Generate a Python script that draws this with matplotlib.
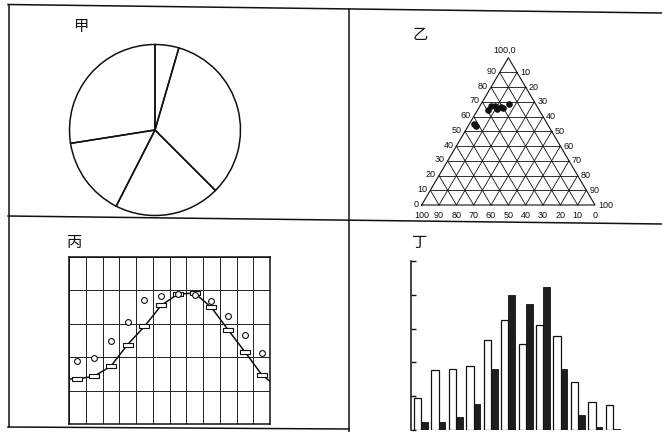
import numpy as np
import matplotlib

matplotlib.use("Agg")
import matplotlib.pyplot as plt
from matplotlib.path import Path

W, H = 662, 432

# 甲: pie shares, clockwise from the top
pie_shares = [4.5, 33, 20, 15, 27.5]

# 乙: ternary points, left scale (A) and right scale (B) in percent
tern_a = [64.5, 67.2, 67.5, 65.2, 66.2, 65.9, 68.6, 55.0, 53.6]
tern_b = [5.9, 6.3, 8.5, 10.8, 12.6, 13.9, 16.0, 2.6, 4.5]
tern_ticks = list(range(0, 101, 10))

# 丙: twelve columns, circles and boxes
months = np.arange(12) + 0.5
circle_vals = [1.90, 1.98, 2.50, 3.05, 3.72, 3.84, 3.89, 3.87, 3.67, 3.22, 2.65, 2.13]
rect_vals = [1.35, 1.43, 1.73, 2.38, 2.92, 3.55, 3.89, 3.92, 3.49, 2.82, 2.16, 1.48]
curve_x = [0, *months, 12]
curve_y = [1.35, *rect_vals, 1.28]

# 丁: paired bars
groups = np.arange(12)
white_vals = [0.94, 1.78, 1.81, 1.88, 2.65, 3.25, 2.55, 3.12, 2.78, 1.42, 0.82, 0.74]
black_vals = [0.25, 0.25, 0.38, 0.76, 1.80, 3.98, 3.74, 4.23, 1.81, 0.45, 0.08, 0.03]

INK = "#111111"
CJK = ["Noto Sans CJK SC", "DejaVu Sans"]
NUM = ["Liberation Sans Narrow", "Liberation Sans", "DejaVu Sans"]

fig = plt.figure(figsize=(W / 100, H / 100), dpi=100)


def px_axes(x0, y0, x1, y1):
    """Add axes from a pixel box (top-left origin)."""
    return fig.add_axes([x0 / W, 1 - y1 / H, (x1 - x0) / W, (y1 - y0) / H])


# frame and panel titles
frame = px_axes(0, 0, W, H)
frame.set_xlim(0, W)
frame.set_ylim(H, 0)
frame.axis("off")
frame.set_zorder(10)
frame.patch.set_visible(False)
lw_frame = 1.1
frame.plot([8, 662], [4.5, 13], color=INK, lw=lw_frame)
frame.plot([8, 662], [216, 224], color=INK, lw=lw_frame)
frame.plot([8, 349], [427, 429], color=INK, lw=lw_frame)
frame.plot([9, 9], [4.5, 427], color=INK, lw=lw_frame)
frame.plot([349, 349], [9, 432], color=INK, lw=lw_frame)
for label, (tx, ty) in zip(["甲", "乙", "丙", "丁"],
                           [(81, 26), (420, 34), (75, 242), (419, 243)]):
    frame.text(tx, ty, label, family=CJK, fontsize=11, color=INK,
               ha="center", va="center")

# 甲 pie
ax = px_axes(60, 35, 250, 225)
ax.pie(pie_shares, startangle=90, counterclock=False, radius=1,
       wedgeprops=dict(fill=False, edgecolor=INK, linewidth=1.1))
lim = 95 / 85.5
ax.set_xlim(-lim, lim)
ax.set_ylim(-lim, lim)
ax.set_aspect("equal")
ax.axis("off")

# 乙 ternary
TH = 0.85


def tern_xy(a, b):
    a = np.asarray(a, dtype=float) / 100
    b = np.asarray(b, dtype=float) / 100
    return b + a / 2, a * TH


ax = px_axes(400, 45, 630, 222)
ax.set_xlim(-0.1252, 1.2019)
ax.set_ylim(-0.0981, 0.9233)
ax.axis("off")
ax.patch.set_visible(False)
px = 1 / 173.3
ax.plot([0, 1, 0.5, 0], [0, 0, TH, 0], color=INK, lw=0.8)
for v in tern_ticks[1:-1]:
    # constant A (horizontal)
    x0, y0 = tern_xy(v, 0)
    x1, y1 = tern_xy(v, 100 - v)
    ax.plot([x0, x1], [y0, y1], color=INK, lw=0.6)
    # constant B (parallel to left side)
    x0, y0 = tern_xy(0, v)
    x1, y1 = tern_xy(100 - v, v)
    ax.plot([x0, x1], [y0, y1], color=INK, lw=0.6)
    # constant C (parallel to right side)
    x0, y0 = tern_xy(0, 100 - v)
    x1, y1 = tern_xy(100 - v, 0)
    ax.plot([x0, x1], [y0, y1], color=INK, lw=0.6)
tk = dict(family=NUM, fontsize=6.5, color=INK)
for v in tern_ticks[:-1]:
    x, y = tern_xy(v, 0)
    ax.text(x - 3 * px, y + 1 * px, str(v), ha="right", va="center", **tk)
for v in tern_ticks[1:]:
    x, y = tern_xy(100 - v, v)
    ax.text(x + 3 * px, y, str(v), ha="left", va="center", **tk)
for v in tern_ticks:
    x, _ = tern_xy(0, 100 - v)
    ax.text(x, -6 * px, str(v), ha="center", va="top", **tk)
xa, ya = tern_xy(100, 0)
ax.text(xa - 4 * px, ya + 3 * px, "100,0", ha="center", va="bottom", **tk)
pxs, pys = tern_xy(tern_a, tern_b)
ax.scatter(pxs, pys, s=14, color=INK, zorder=3)

# 丙 columns with circles and boxes
ax = px_axes(69, 257, 270, 424)
ax.set_xlim(0, 12)
ax.set_ylim(0, 5)
ax.set_xticks(range(13))
ax.set_yticks(range(6))
ax.tick_params(length=0, labelbottom=False, labelleft=False)
ax.grid(True, color="#222222", lw=0.7)
for sp in ax.spines.values():
    sp.set_linewidth(1.1)
    sp.set_color(INK)
ax.plot(curve_x, curve_y, color=INK, lw=1.1, zorder=3)
box = Path([(-1, -0.35), (1, -0.35), (1, 0.35), (-1, 0.35), (-1, -0.35)],
           closed=True)
ax.plot(months, rect_vals, ls="none", marker=box, markersize=6.5,
        markerfacecolor="white", markeredgecolor=INK, markeredgewidth=0.8,
        zorder=4)
ax.plot(months, circle_vals, ls="none", marker="o", markersize=4.2,
        markerfacecolor="white", markeredgecolor=INK, markeredgewidth=0.8,
        zorder=4)

# 丁 paired bars
ax = px_axes(411, 261, 660, 430)
ax.set_xlim(-0.17, 14.11)
ax.set_ylim(0, 5)
ax.bar(groups, white_vals, width=0.42, align="edge", color="white",
       edgecolor=INK, linewidth=0.9)
ax.bar(groups + 0.42, black_vals, width=0.38, align="edge", color="#1e1e1e",
       edgecolor=INK, linewidth=0.6)
for side in ["top", "right", "bottom"]:
    ax.spines[side].set_visible(False)
ax.spines["left"].set_linewidth(1.1)
ax.spines["left"].set_color(INK)
ax.set_xticks([])
ax.set_yticks(range(6))
ax.tick_params(axis="y", direction="in", length=3.5, width=1.0,
               labelleft=False, color=INK)
ax.patch.set_visible(False)

fig.savefig("out.png", dpi=100)
